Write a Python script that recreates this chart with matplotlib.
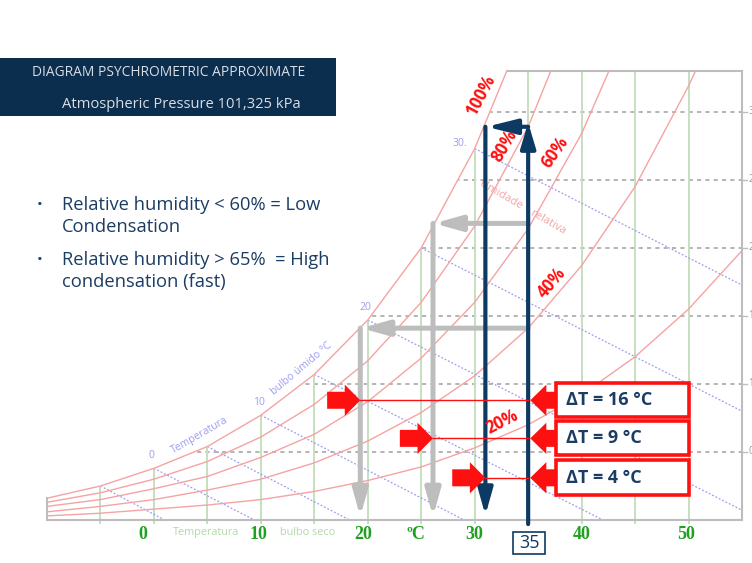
import matplotlib
matplotlib.use('Agg')
import matplotlib.pyplot as plt
from matplotlib.patches import Rectangle, FancyArrow
import numpy as np

plt.rcParams['font.family'] = ['Open Sans', 'DejaVu Sans']

# Dry bulb temperatures (deg C) used for the humidity curves
temps = [-10, -5, 0, 5, 10, 15, 20, 25, 30, 35, 40, 45, 50, 55]

# Humidity ratio (g/kg) of each relative humidity curve
rh_100 = [1.6, 2.5, 3.8, 5.4, 7.7, 10.7, 14.7, 20.0, 27.3, 36.8, 49.1, 65.0, 86.0, 114.0]
rh_80 = [1.3, 2.0, 3.0, 4.3, 6.1, 8.5, 11.7, 16.0, 21.6, 28.9, 38.6, 51.0, 68.0, 90.0]
rh_60 = [1.0, 1.5, 2.3, 3.2, 4.6, 6.3, 8.7, 11.9, 16.0, 21.4, 28.4, 37.4, 49.0, 64.0]
rh_40 = [0.6, 1.0, 1.5, 2.2, 3.0, 4.2, 5.8, 7.9, 10.6, 14.1, 18.7, 24.5, 31.9, 40.4]
rh_20 = [0.3, 0.5, 0.8, 1.1, 1.5, 2.1, 2.9, 3.9, 5.3, 7.0, 9.2, 12.0, 15.5, 19.8]
rh_curves = [rh_100, rh_80, rh_60, rh_40, rh_20]

# Wet bulb lines: start on saturation, end on the zero humidity axis
wb_temps = [-5, 0, 5, 10, 15, 20, 25, 30]
wb_start_w = [2.5, 3.8, 5.4, 7.7, 10.7, 14.7, 20.0, 27.3]
wb_end_t = [1.0, 9.4, 18.3, 29.0, 42.0, 56.8, 75.0, 98.0]

# Grid
dry_bulb_grid = [-5, 0, 5, 10, 15, 20, 25, 30, 35, 40, 45, 50]
w_grid = [5, 10, 15, 20, 25, 30]
w_grid_labels = ['05', '10', '15', '20', '25', '30']
x_labels = ['0', '10', '20', '30', '40', '50']
x_label_pos = [-1, 9.8, 19.6, 30, 40, 49.8]

# The three cases at 35 deg C
t_air = 35
case_w = [14.1, 21.8, 28.9]
case_dew = [19.3, 26.1, 31.0]
delta_t = [16, 9, 4]
marker_w = [8.8, 6.0, 3.1]

navy = '#0c3a62'
text_navy = '#1c3d63'
red = '#ff1010'
light_red = '#f5a3a3'
green_line = '#c6e0c0'
wb_blue = '#9c9cf0'
gray = '#bdbdbd'

W, H = 752, 563
fig = plt.figure(figsize=(W / 100, H / 100), dpi=100)


def fx(x):
    return x / W


def fy(y):
    return 1 - y / H


ax = fig.add_axes([fx(47), 43 / H, 695 / W, 449 / H])
ax.set_xlim(-10, 55)
ax.set_ylim(0, 33)
ax.axis('off')

# grid lines (masked above saturation afterwards)
ax.hlines(w_grid, -10, 55, colors='#a8a8a8', linestyles=(0, (2.5, 2.5)), lw=1.2, zorder=1)
ax.vlines(dry_bulb_grid, -0.3, 33, colors=green_line, lw=1.4, zorder=1, clip_on=False)
for t0, w0, t1 in zip(wb_temps, wb_start_w, wb_end_t):
    ax.plot([t0, t1], [w0, 0], color=wb_blue, lw=0.9, ls=(0, (1.5, 1.5)), zorder=1)

ax.fill_between(temps, rh_100, 200, color='white', zorder=2)

for curve in rh_curves:
    ax.plot(temps, curve, color=light_red, lw=1.0, zorder=3)

# frame
t_top = np.interp(33, rh_100, temps)
frame_kw = dict(color='#bdbdbd', lw=1.5, zorder=3, clip_on=False)
ax.plot([-10, 55], [0, 0], **frame_kw)
ax.plot([55, 55], [0, 33], **frame_kw)
ax.plot([t_top, 55], [33, 33], **frame_kw)
ax.plot([-10, -10], [0, rh_100[0]], **frame_kw)
for w, lab in zip(w_grid, w_grid_labels):
    ax.plot([55, 55.5], [w, w], color='#bdbdbd', lw=1, clip_on=False)
    ax.text(55.6, w, lab, fontsize=7, color='#9a9a9a', va='center', ha='left', clip_on=False)
ax.text(56.9, 10, 'Umidade absoluta g/kg', rotation=90, fontsize=7, color='#b0b0b0',
        va='center', ha='left', clip_on=False)

# wet bulb labels
for t0, w0 in zip([0, 10, 20], [3.8, 7.7, 14.7]):
    ax.text(t0 - 0.2, w0 + 0.5, str(t0), fontsize=7.5, color=wb_blue, ha='center', va='bottom', zorder=4)
ax.text(29.3, 27.7, '30.', fontsize=7.5, color=wb_blue, ha='right', va='center', zorder=4)
ax.text(4.3, 6.2, 'Temperatura', fontsize=7.5, color=wb_blue, rotation=30, ha='center', va='center', zorder=4)
ax.text(13.8, 11.1, 'bulbo úmido °C', fontsize=7.5, color=wb_blue, rotation=40, ha='center', va='center', zorder=4)
ax.text(34.5, 23.0, 'Umidade    relativa', fontsize=8, color='#f2a6a6', rotation=-30,
        ha='center', va='center', zorder=4)

# relative humidity labels
rh_labels = ['100%', '80%', '60%', '40%', '20%']
rh_label_xy = [(30.6, 31.2), (32.8, 27.5), (37.5, 27.0), (37.2, 17.4), (32.6, 7.2)]
rh_label_rot = [62, 60, 55, 50, 27]
for lab, (x, y), rot in zip(rh_labels, rh_label_xy, rh_label_rot):
    ax.text(x, y, lab, fontsize=12, fontweight='bold', color=red, rotation=rot,
            ha='center', va='center', zorder=6)

# bottom axis labels
for x, lab in zip(x_label_pos, x_labels):
    ax.text(x, -1.1, lab, fontsize=13, fontweight='bold', family='Liberation Serif',
            color='#20a020', ha='center', va='center', clip_on=False)
ax.text(24.5, -1.1, 'ºC', fontsize=13, fontweight='bold', family='Liberation Serif',
        color='#20a020', ha='center', va='center', clip_on=False)
ax.text(4.9, -0.9, 'Temperatura', fontsize=7.8, color='#b4d8ac', ha='center', va='center', clip_on=False)
ax.text(14.4, -0.9, 'bulbo seco', fontsize=7.8, color='#b4d8ac', ha='center', va='center', clip_on=False)

# arrows
def line_arrow(start, end, color, lw, hl, hw):
    ax.annotate('', xy=end, xytext=start, annotation_clip=False, zorder=5,
                arrowprops=dict(arrowstyle='-|>,head_length=%g,head_width=%g' % (hl, hw),
                                mutation_scale=1, color=color, lw=lw, shrinkA=0, shrinkB=0))


for w, dew in zip(case_w[:2], case_dew[:2]):
    line_arrow((t_air, w), (dew + 0.1, w), gray, 3.6, 16, 4.5)
    line_arrow((dew, w), (dew, 0.25), gray, 3.6, 16, 4.5)

line_arrow((t_air, -0.3), (t_air, 29.2), navy, 3, 15, 4.5)
line_arrow((t_air, case_w[2]), (case_dew[2] + 0.1, case_w[2]), navy, 3, 18, 4.5)
line_arrow((case_dew[2], case_w[2]), (case_dew[2], 0.35), navy, 3, 16, 4.5)

for w, dew, dt in zip(marker_w, case_dew, delta_t):
    ax.plot([dew, t_air], [w, w], color=red, lw=1, zorder=5)
    ax.add_patch(FancyArrow(dew - 3.1, w, 3.1, 0, width=1.25, head_width=2.3, head_length=1.45,
                            length_includes_head=True, color=red, lw=0, zorder=6, clip_on=False))
    ax.add_patch(FancyArrow(37.8, w, -2.6, 0, width=1.25, head_width=2.3, head_length=1.5,
                            length_includes_head=True, color=red, lw=0, zorder=6, clip_on=False))
    ax.add_patch(Rectangle((37.65, w - 1.25), 12.35, 2.55, facecolor='white', edgecolor=red,
                           lw=2.6, zorder=7, clip_on=False))
    ax.text(38.5, w, 'ΔT = %d °C' % dt, fontsize=13, fontweight='bold', color=text_navy,
            ha='left', va='center', zorder=8)

# 35 box under the axis
fig.patches.append(Rectangle((fx(513), fy(554)), 32 / W, 22 / H, transform=fig.transFigure,
                             facecolor='white', edgecolor=navy, lw=1.2))
fig.text(fx(529), fy(543), '35', fontsize=13, color=navy, ha='center', va='center')

# title box
fig.patches.append(Rectangle((0, fy(116)), 336 / W, 58 / H, transform=fig.transFigure,
                             facecolor='#0b2d4e', edgecolor='none'))
fig.text(fx(169), fy(72), 'DIAGRAM PSYCHROMETRIC APPROXIMATE', fontsize=9.9, color='#d9dee5',
         ha='center', va='center')
fig.text(fx(181), fy(104), 'Atmospheric Pressure 101,325 kPa', fontsize=10.6, color='#d9dee5',
         ha='center', va='center')

# bullet notes
bullets = [('Relative humidity < 60% = Low', 'Condensation', 205),
           ('Relative humidity > 65%  = High', 'condensation (fast)', 260)]
for line1, line2, y in bullets:
    fig.text(fx(37), fy(y), '•', fontsize=11, color=text_navy, ha='left', va='center')
    fig.text(fx(62), fy(y), line1, fontsize=13.2, color=text_navy, ha='left', va='center')
    fig.text(fx(62), fy(y + 22), line2, fontsize=13.2, color=text_navy, ha='left', va='center')

fig.savefig('out.png', dpi=100)
